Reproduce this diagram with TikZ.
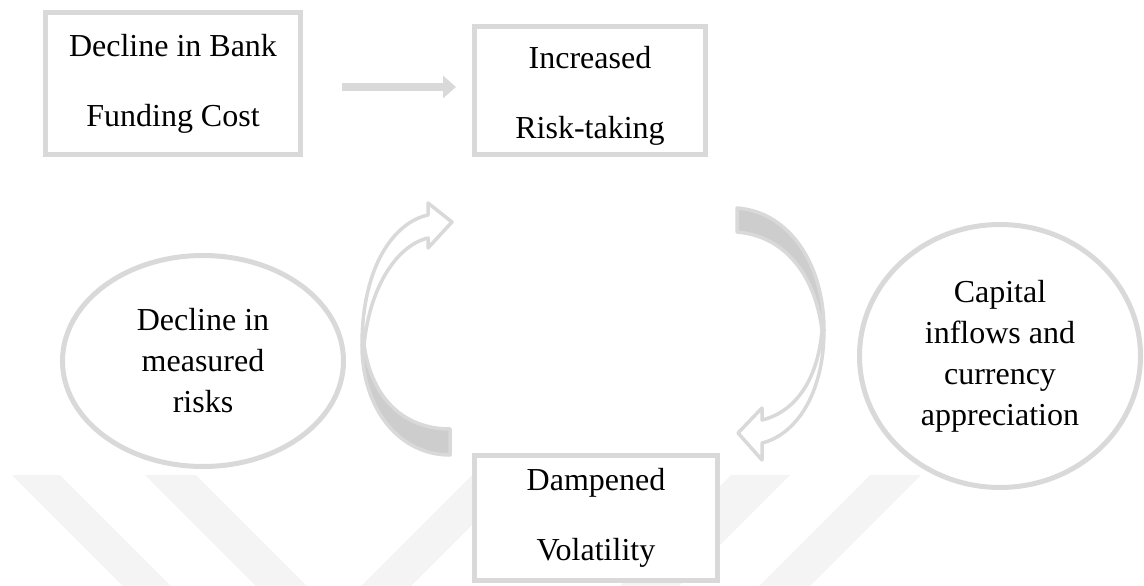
\documentclass[tikz,border=0pt]{standalone}
\usepackage{fontspec}
\setmainfont{Liberation Serif}
\usetikzlibrary{shapes.geometric,arrows.meta,calc}
\definecolor{lg}{HTML}{D9D9D9}
\definecolor{dg}{HTML}{CDCDCD}
\definecolor{wm}{HTML}{F4F4F4}
\begin{document}
\begin{tikzpicture}[x=1pt,y=-1pt,
  boxnode/.style={draw=lg,fill=white,line width=5pt,rectangle,align=center,inner sep=0pt,font=\fontsize{32}{70}\selectfont},
  ellnode/.style={draw=lg,fill=white,line width=5pt,ellipse,align=center,inner sep=0pt,font=\fontsize{32}{41}\selectfont},
  arrowline/.style={draw=lg,line width=3.5pt,line join=round},
  wmband/.style={fill=wm}]
\useasboundingbox (0,0) rectangle (1144,586);
% faint watermark bands
\fill[wmband] (12,475) -- (60,475) -- (171,586) -- (123,586) -- cycle;
\fill[wmband] (145,475) -- (196,475) -- (307,586) -- (256,586) -- cycle;
\fill[wmband] (472,475) -- (522,475) -- (411,586) -- (361,586) -- cycle;
\fill[wmband] (731,475) -- (790,475) -- (679,586) -- (620,586) -- cycle;
\fill[wmband] (870,475) -- (921,475) -- (810,586) -- (759,586) -- cycle;
% nodes
\node[boxnode,minimum width=255pt,minimum height=142pt] (b1) at (173,83.5) {Decline in Bank\\Funding Cost};
\node[boxnode,minimum width=231pt,minimum height=128pt] (b2) at (590,90.5) {\rule{0pt}{33pt}Increased\\Risk-taking};
\node[boxnode,minimum width=243pt,minimum height=125pt] (b3) at (596,518) {Dampened\\Volatility};
\node[ellnode,minimum width=281pt,minimum height=211pt] (e1) at (203,361) {Decline in\\measured\\risks};
\node[ellnode,minimum width=281pt,minimum height=263pt] (e2) at (1000,356) {Capital\\inflows and\\currency\\appreciation};
% straight arrow
\draw[lg,line width=8pt,-{Triangle[length=13pt,width=22pt]}] ($(b1.east)+(39,3.5)$) -- ($(b2.west)+(-16,-3.5)$);
% left curved arrow (up)
\filldraw[fill=dg,arrowline] (362,345) .. controls (362,410) and (400,455) .. (450,455) -- (450,429) .. controls (405,429) and (372,400) .. (364,345) -- cycle;
\filldraw[fill=white,arrowline] (362,345) .. controls (362,265) and (395,222) .. (428,215) -- (428,203) -- (452,222) -- (428,248) -- (428,238) .. controls (398,245) and (370,285) .. (364,345) -- cycle;
% right curved arrow (down)
\filldraw[fill=dg,arrowline] (737,208) .. controls (790,212) and (824,265) .. (824,330) -- (822,330) .. controls (815,275) and (785,236) .. (737,232) -- cycle;
\filldraw[fill=white,arrowline] (824,330) .. controls (824,395) and (795,435) .. (762,443) -- (762,460) -- (738,433) -- (762,408) -- (762,420) .. controls (795,412) and (818,380) .. (822,330) -- cycle;
\end{tikzpicture}
\end{document}
